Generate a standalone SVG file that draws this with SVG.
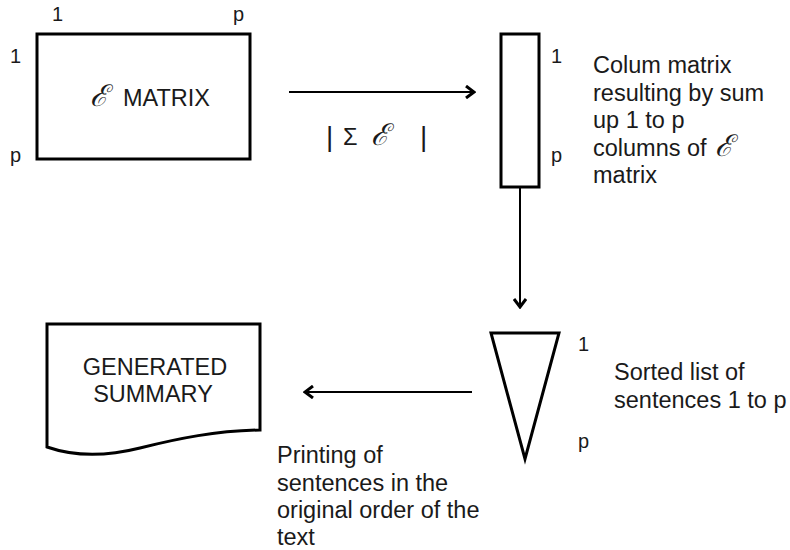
<svg xmlns="http://www.w3.org/2000/svg" width="790" height="550" viewBox="0 0 790 550">
  <style>
    .shape { fill: #fff; stroke: #000; stroke-width: 3; }
    .txt { font-family: "Liberation Sans", Arial, sans-serif; font-size: 23.5px; fill: #1a1a1a; }
    .idx { font-family: "Liberation Sans", Arial, sans-serif; font-size: 20px; fill: #1a1a1a; }
    .scr { font-family: "DejaVu Serif", "Liberation Serif", serif; font-style: italic; font-size: 30px; }
    .bar { font-size: 28px; }
    .conn { stroke: #000; stroke-width: 2; fill: none; marker-end: url(#open); }
  </style>
  <defs>
    <marker id="open" viewBox="0 0 12 14" refX="10" refY="7" markerWidth="12" markerHeight="14" markerUnits="userSpaceOnUse" orient="auto">
      <path d="M2,1 L10,7 L2,13" fill="none" stroke="#000" stroke-width="3"/>
    </marker>
  </defs>

  <!-- F matrix -->
  <g id="f-matrix">
    <rect class="shape" x="37" y="34" width="213" height="125"/>
    <text class="txt scr" x="90" y="106">ℰ</text>
    <text class="txt" x="123" y="106">MATRIX</text>
    <text class="idx" x="52" y="21">1</text>
    <text class="idx" x="233" y="21">p</text>
    <text class="idx" x="10" y="63">1</text>
    <text class="idx" x="10" y="162">p</text>
  </g>

  <!-- column matrix -->
  <g id="column-matrix">
    <rect class="shape" x="501" y="34" width="38" height="153"/>
    <text class="idx" x="551" y="63">1</text>
    <text class="idx" x="551" y="162">p</text>
    <text class="txt" x="593" y="73">Colum matrix</text>
    <text class="txt" x="593" y="100.5">resulting by sum</text>
    <text class="txt" x="593" y="128">up 1 to p</text>
    <text class="txt" x="593" y="155.5">columns of</text>
    <text class="txt scr" x="715" y="156">ℰ</text>
    <text class="txt" x="593" y="183">matrix</text>
  </g>

  <!-- sorted list -->
  <g id="sorted-list">
    <polygon class="shape" points="491,333 559,333 525,459"/>
    <text class="idx" x="578" y="351">1</text>
    <text class="idx" x="578" y="448">p</text>
    <text class="txt" x="614" y="380">Sorted list of</text>
    <text class="txt" x="614" y="408">sentences 1 to p</text>
  </g>

  <!-- generated summary document -->
  <g id="summary">
    <path class="shape" d="M47,324 L260,324 L260,430 C215,431 180,438 140,448 C100,458 70,455 47,447 Z"/>
    <text class="txt" x="155" y="375" text-anchor="middle">GENERATED</text>
    <text class="txt" x="153" y="402" text-anchor="middle">SUMMARY</text>
  </g>

  <!-- connectors -->
  <g id="connectors">
    <line class="conn" x1="289" y1="92" x2="474" y2="92"/>
    <text class="txt bar" x="326" y="146">|</text>
    <text class="txt" x="343" y="145">Σ</text>
    <text class="txt scr" x="371" y="145">ℰ</text>
    <text class="txt bar" x="420" y="146">|</text>
    <line class="conn" x1="520" y1="188" x2="520" y2="307"/>
    <line class="conn" x1="472" y1="392" x2="305" y2="392"/>
    <text class="txt" x="277" y="463">Printing of</text>
    <text class="txt" x="277" y="490.5">sentences in the</text>
    <text class="txt" x="277" y="518">original order of the</text>
    <text class="txt" x="277" y="545">text</text>
  </g>
</svg>
